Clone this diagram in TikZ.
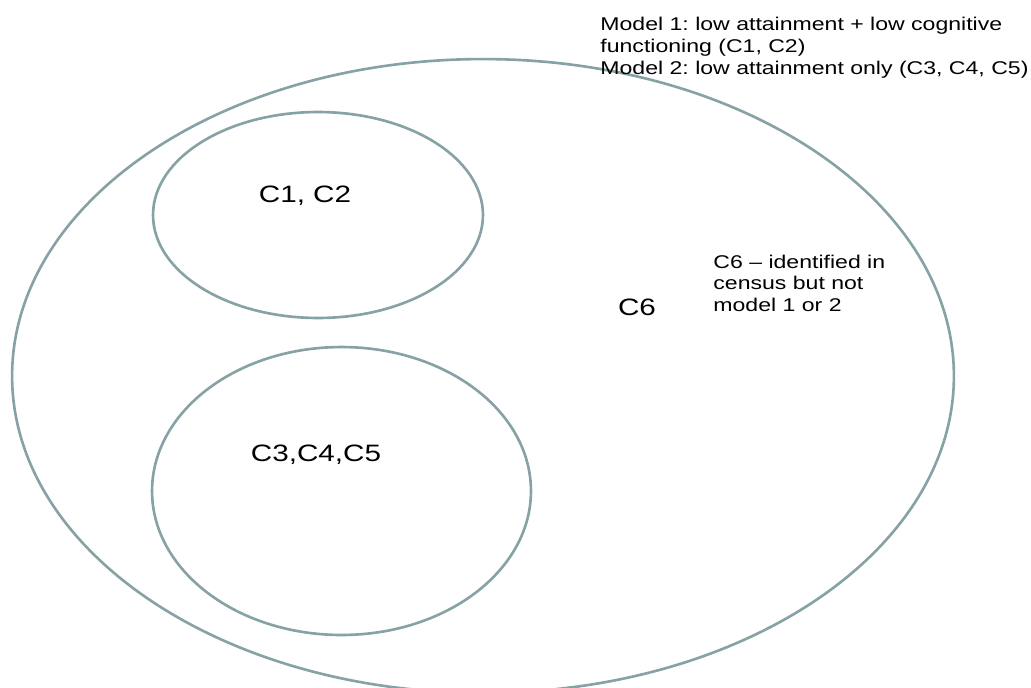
\documentclass[tikz,border=0pt]{standalone}
\usepackage{fontspec}
\setmainfont{Liberation Sans}
\frenchspacing
\usetikzlibrary{arrows.meta}
\definecolor{ringgrey}{RGB}{135,162,164}

\begin{document}
\begin{tikzpicture}[>=Stealth,x=0.02cm,y=-0.02cm,
  ring/.style={draw=ringgrey,line width=1.5pt},
  notetext/.style={inner sep=0pt,align=left,anchor=base west,transform shape,xscale=1.25,font=\fontsize{10.5}{12.5}\selectfont},
  settext/.style={inner sep=0pt,anchor=base,transform shape,xscale=1.25,font=\fontsize{13.5}{16}\selectfont}]
            \useasboundingbox (0,0) rectangle (1031,687);
            \draw [ring] (483,376) ellipse [x radius=9.42cm,y radius=6.34cm];
            \draw [ring] (318,215) ellipse [x radius=3.30cm,y radius=2.06cm];
            \draw [ring] (341.5,491) ellipse [x radius=3.79cm,y radius=2.88cm];
            \node [settext] (setab) at (305,202) {C1, C2};
            \node [settext] (setcde) at (316,461) {C3,C4,C5};
            \node [settext] (setf) at (637,315) {C6};
            \node [notetext] (models) at (600,74) {Model 1: low attainment + low cognitive\\functioning (C1, C2)\\Model 2: low attainment only (C3, C4, C5)};
            \node [notetext,font=\fontsize{10.5}{12.2}\selectfont] (censusnote) at (713,311) {C6 -- identified in\\census but not\\model 1 or 2};
        \end{tikzpicture}
\end{document}
